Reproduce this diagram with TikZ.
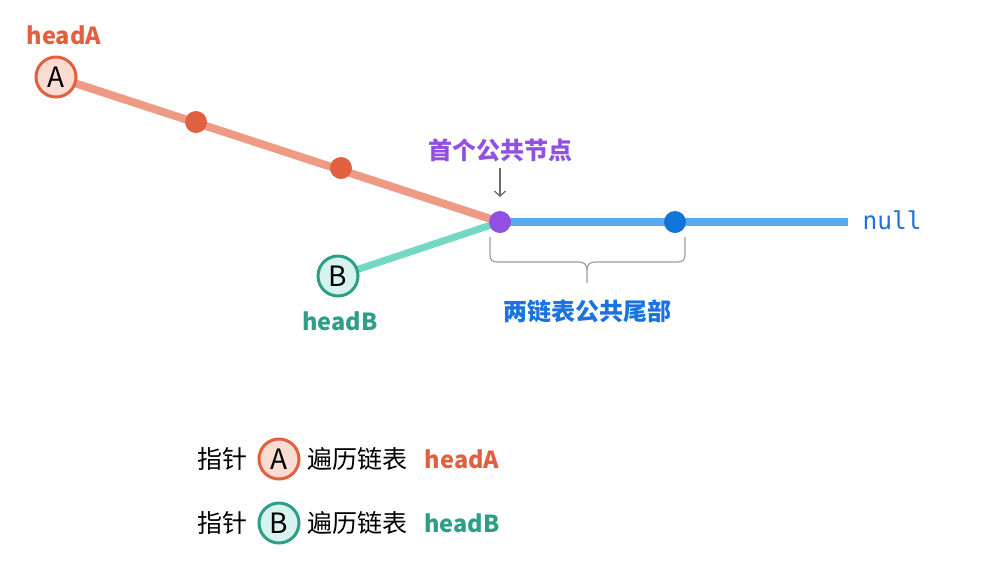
\documentclass[tikz,border=0pt]{standalone}
\usepackage{fontspec}
\setmainfont{Noto Sans CJK SC}
\newfontfamily\cjk{Noto Sans CJK SC}
\newfontfamily\monof{DejaVu Sans Mono}
\usetikzlibrary{arrows.meta}
\definecolor{cOr}{HTML}{E0603F}
\definecolor{cSal}{HTML}{EE9A85}
\definecolor{cPink}{HTML}{FBDCD3}
\definecolor{cTeal}{HTML}{2E9E88}
\definecolor{cTealL}{HTML}{72D9C4}
\definecolor{cTealF}{HTML}{D6F3EE}
\definecolor{cPur}{HTML}{9050E0}
\definecolor{cBlueL}{HTML}{5BAAF0}
\definecolor{cBlue}{HTML}{1273D9}
\definecolor{cBlueT}{HTML}{1A73E0}
\tikzset{
  ptrA/.style={circle,draw=cOr,fill=cPink,line width=3pt,minimum size=40pt,inner sep=0pt,font=\fontsize{28}{28}\selectfont},
  ptrB/.style={circle,draw=cTeal,fill=cTealF,line width=3pt,minimum size=40pt,inner sep=0pt,font=\fontsize{28}{28}\selectfont},
  dotnode/.style={circle,minimum size=22pt,inner sep=0pt},
  lbl/.style={font=\fontsize{24}{24}\selectfont\bfseries},
  txt/.style={font=\fontsize{25}{25}\selectfont},
}
\begin{document}
\begin{tikzpicture}[x=1pt,y=-1pt]
\useasboundingbox[fill=white] (0,0) rectangle (1000,582);
% coordinates
\coordinate (pA) at (56,77);
\coordinate (pB) at (338,276);
\coordinate (pP) at (500,222);
\coordinate (pN) at (848,222);
% lines
\draw[cSal,line width=8pt] (pA) -- (pP);
\draw[cTealL,line width=7pt] (pB) -- (pP);
\draw[cBlueL,line width=8pt] (pP) -- (pN);
% dots
\node[dotnode,fill=cOr] (a1) at (196,122) {};
\node[dotnode,fill=cOr] (a2) at (341,168) {};
\node[dotnode,fill=cPur] (p) at (pP) {};
\node[dotnode,fill=cBlue] (b1) at (675,222) {};
% pointers
\node[ptrA] (A) at (pA) {A};
\node[ptrB] (B) at (pB) {B};
\node[lbl,text=cOr,font=\fontsize{23.5}{24}\selectfont\bfseries] (hA) at (64,35) {headA};
\node[lbl,text=cTeal,font=\fontsize{23.5}{24}\selectfont\bfseries] (hB) at (340,321) {headB};
\node[text=cBlueT,font=\monof\fontsize{24.5}{24}\selectfont] (nul) at (892,220) {null};
% first common node label
\node[lbl,text=cPur] (first) at (500,150) {首个公共节点};
\coordinate (arT) at (500,168);
\coordinate (arE) at (500,197);
\draw[-{Straight Barb[length=5pt,width=11pt]},gray!85!black,line width=1.3pt] (arT) -- (arE);
% brace
\coordinate (brL) at (490,237);
\coordinate (brR) at (685,237);
\coordinate (brT) at (587,283);
\draw[gray!75,line width=1.2pt,line join=round]
  (brL) -- (490,254) .. controls (490,260) and (492,262) .. (498,262)
  -- (578,262) .. controls (584,262) and (587,264) .. (587,270) -- (brT);
\draw[gray!75,line width=1.2pt,line join=round]
  (brR) -- (685,254) .. controls (685,260) and (683,262) .. (677,262)
  -- (596,262) .. controls (590,262) and (587,264) .. (587,270);
\node[lbl,text=cBlueT] (tail) at (587,311) {两链表公共尾部};
% legend
\node[txt] (l1a) at (222,459) {指针};
\node[ptrA] (LA) at (279,459) {A};
\node[txt] (l1b) at (357,459) {遍历链表};
\node[lbl,text=cOr,font=\fontsize{23.5}{24}\selectfont\bfseries] (l1c) at (462,459) {headA};
\node[txt] (l2a) at (222,523) {指针};
\node[ptrB] (LB) at (279,523) {B};
\node[txt] (l2b) at (357,523) {遍历链表};
\node[lbl,text=cTeal,font=\fontsize{23.5}{24}\selectfont\bfseries] (l2c) at (462,523) {headB};
\end{tikzpicture}
\end{document}
